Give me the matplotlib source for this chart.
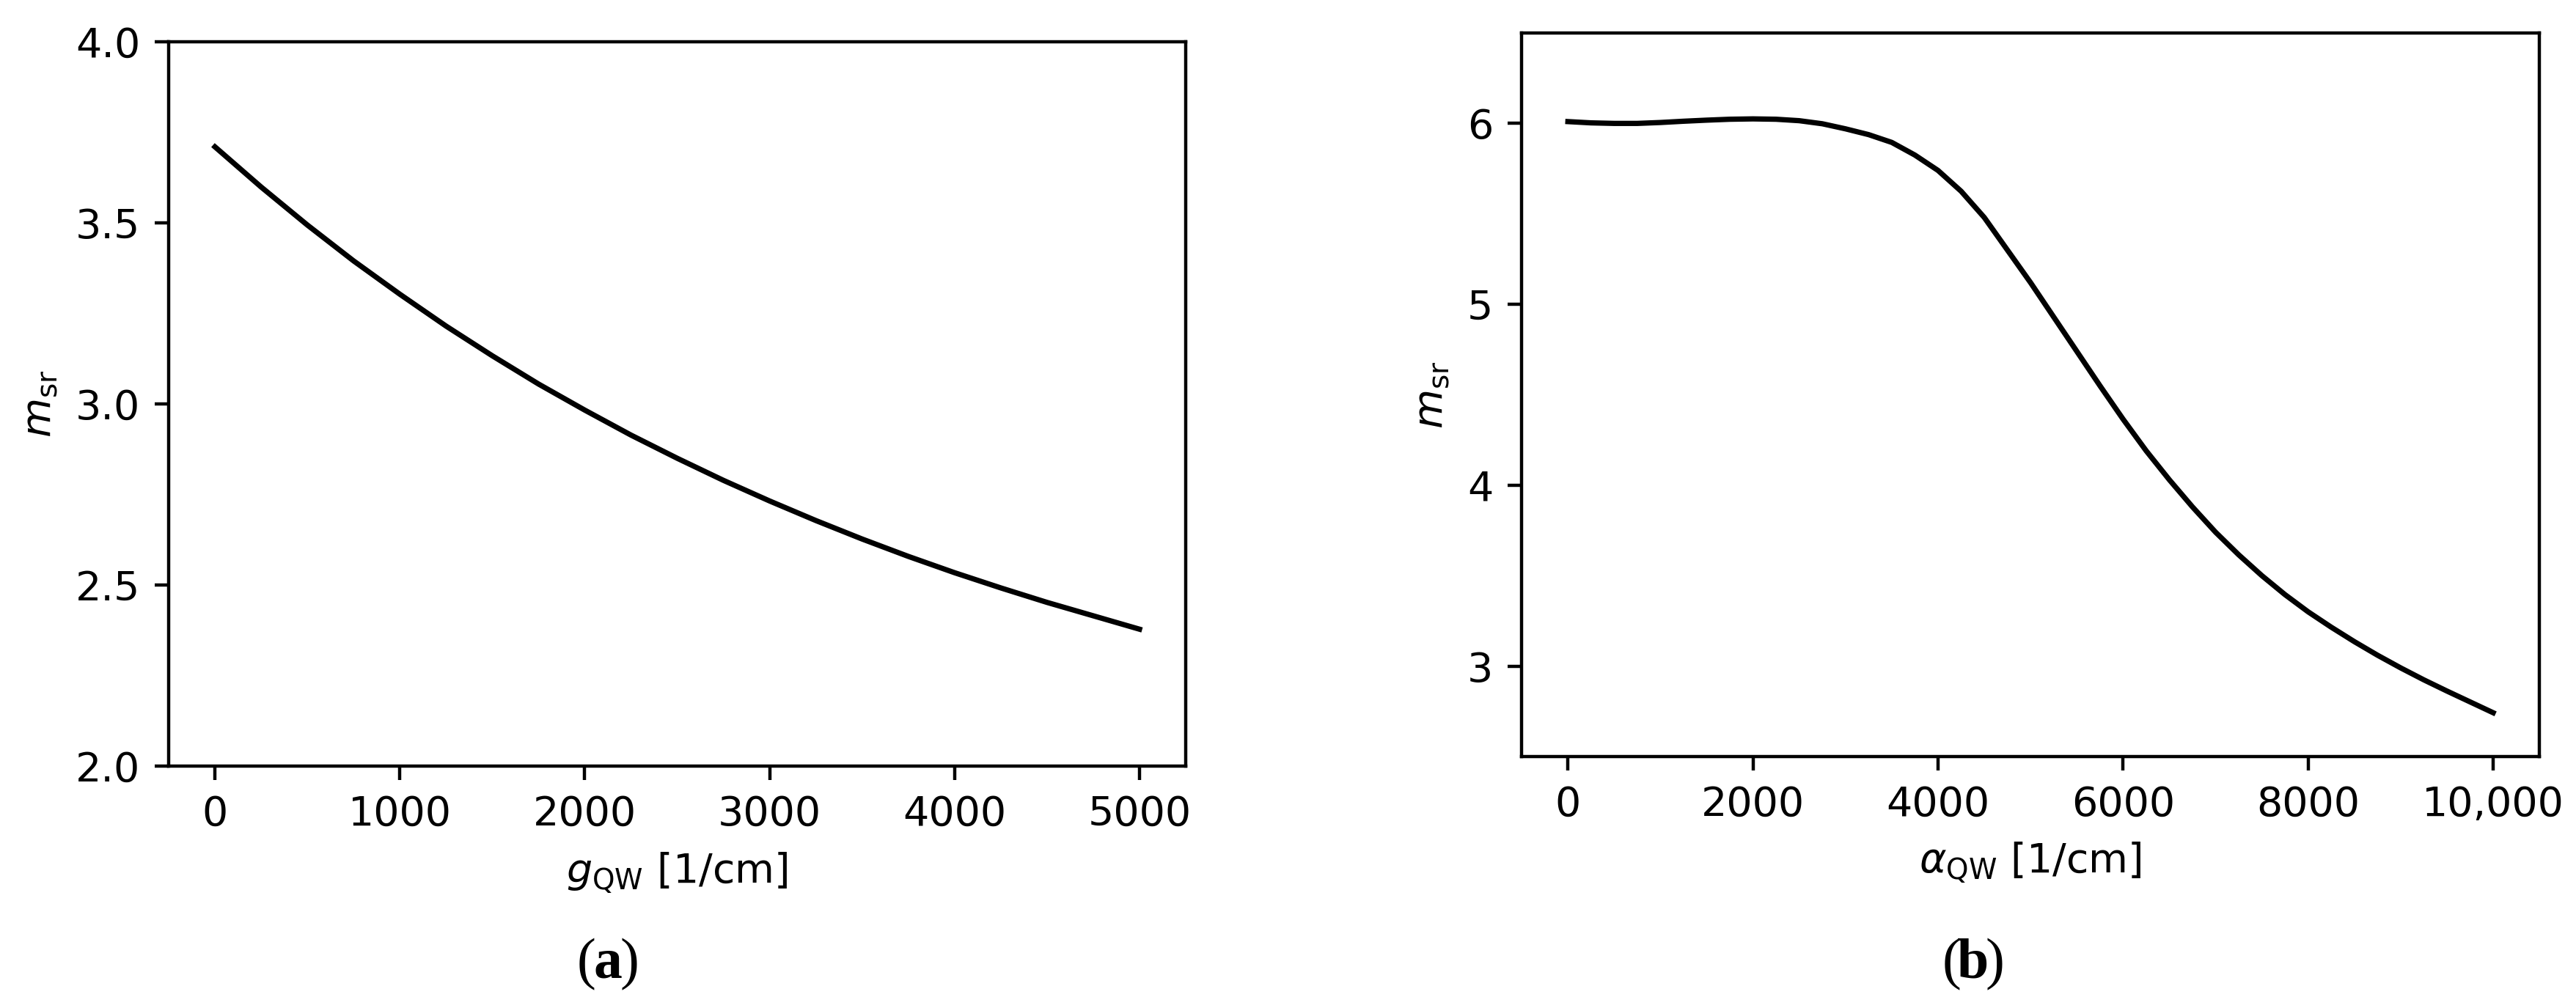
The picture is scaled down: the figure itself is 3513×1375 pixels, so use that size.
import matplotlib
matplotlib.use("Agg")
import matplotlib.pyplot as plt

# (a) m_sr vs g_QW
g_qw = [0, 250, 500, 750, 1000, 1250, 1500, 1750, 2000, 2250, 2500,
        2750, 3000, 3250, 3500, 3750, 4000, 4250, 4500, 4750, 5000]
m_sr_gain = [3.710, 3.599, 3.494, 3.395, 3.303, 3.215, 3.133, 3.055, 2.983, 2.914, 2.850,
             2.789, 2.732, 2.678, 2.627, 2.579, 2.534, 2.492, 2.452, 2.415, 2.378]
ticks_a = [0, 1000, 2000, 3000, 4000, 5000]
ticklabels_a = ["0", "1000", "2000", "3000", "4000", "5000"]

# (b) m_sr vs alpha_QW
alpha_qw = [0, 250, 500, 750, 1000, 1250, 1500, 1750, 2000, 2250, 2500, 2750,
            3000, 3250, 3500, 3750, 4000, 4250, 4500, 4750, 5000, 5250, 5500,
            5750, 6000, 6250, 6500, 6750, 7000, 7250, 7500, 7750, 8000, 8250,
            8500, 8750, 9000, 9250, 9500, 9750, 10000]
m_sr_abs = [6.010, 6.003, 6.000, 6.000, 6.005, 6.012, 6.018, 6.023, 6.025, 6.023, 6.015, 5.998,
            5.970, 5.938, 5.895, 5.825, 5.740, 5.625, 5.480, 5.300, 5.120, 4.930, 4.740,
            4.550, 4.365, 4.190, 4.030, 3.880, 3.740, 3.615, 3.500, 3.395, 3.300, 3.215,
            3.135, 3.060, 2.990, 2.924, 2.862, 2.802, 2.742]
ticks_b = [0, 2000, 4000, 6000, 8000, 10000]
ticklabels_b = ["0", "2000", "4000", "6000", "8000", "10,000"]

fig = plt.figure(figsize=(3513 / 400, 1375 / 400), dpi=400)

ax1 = fig.add_axes([0.0655, 0.24, 0.3948, 0.7185])
ax1.plot(g_qw, m_sr_gain, color="black", lw=1.3)
ax1.set_ylim(2.0, 4.0)
ax1.set_yticks([2.0, 2.5, 3.0, 3.5, 4.0])
ax1.set_xticks(ticks_a)
ax1.set_xticklabels(ticklabels_a)
ax1.set_xlabel(r"$g_{\mathrm{QW}}$ [1/cm]")
ax1.set_ylabel(r"$m_{\mathrm{sr}}$")

ax2 = fig.add_axes([0.5907, 0.2495, 0.3951, 0.7178])
ax2.plot(alpha_qw, m_sr_abs, color="black", lw=1.3)
ax2.set_ylim(2.5, 6.5)
ax2.set_yticks([3, 4, 5, 6])
ax2.set_xticks(ticks_b)
ax2.set_xticklabels(ticklabels_b)
ax2.set_xlabel(r"$\alpha_{\mathrm{QW}}$ [1/cm]")
ax2.set_ylabel(r"$m_{\mathrm{sr}}$")

# panel captions: plain parentheses, bold letter
for xc, letter in [(0.236, "a"), (0.766, "b")]:
    fig.text(xc - 0.0085, 0.0436, "(", ha="center", va="center",
             fontsize=14, family="Liberation Serif")
    fig.text(xc, 0.0436, letter, ha="center", va="center",
             fontsize=14, family="Liberation Serif", fontweight="bold")
    fig.text(xc + 0.0085, 0.0436, ")", ha="center", va="center",
             fontsize=14, family="Liberation Serif")

fig.savefig("out.png", dpi=400, facecolor="white")
